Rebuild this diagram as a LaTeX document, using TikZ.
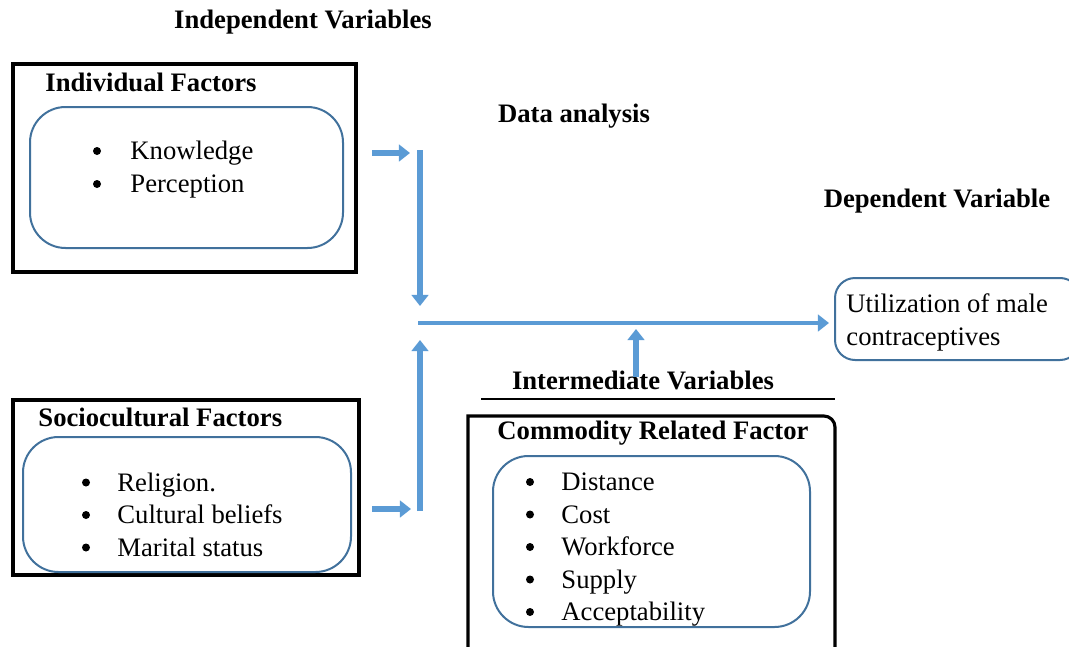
\documentclass[tikz,border=0pt]{standalone}
\usepackage{fontspec}
\setmainfont{Liberation Serif}
\usetikzlibrary{arrows.meta}
\definecolor{linkblue}{HTML}{5B9BD5}
\definecolor{edgeblue}{HTML}{41719C}
\tikzset{
  heading/.style={font=\bfseries\fontsize{12}{14}\selectfont, inner sep=0pt},
  itemtext/.style={font=\fontsize{12}{14}\selectfont, anchor=west, inner sep=0pt, text height=8.5pt, text depth=2.5pt},
  bulletdot/.style={circle, fill=black, inner sep=0pt, minimum size=3.6pt},
  outerbox/.style={draw=black, line width=1.4pt},
  innerbox/.style={draw=edgeblue, line width=0.9pt, rounded corners=16pt},
  flow/.style={draw=linkblue, line width=2.4pt, -{Triangle[length=5pt,width=7.5pt]}},
}
\begin{document}
\begin{tikzpicture}[x=0.45pt,y=-0.45pt]
\useasboundingbox (0,0) rectangle (1069,647);
% headings
\node[heading] (indep) at (303,22) {Independent Variables};
\node[heading] (analysis) at (574,116) {Data analysis};
\node[heading] (dep) at (937,201) {Dependent Variable};
\node[heading] (inter) at (643,380) {Intermediate Variables};
\draw[line width=0.9pt] (481,399) -- (835,399);

% individual factors
\draw[outerbox] (13,64) rectangle (356,272);
\node[heading, anchor=west] (indTitle) at (45,82) {Individual Factors};
\draw[innerbox] (30,107) rectangle (343,248);
\foreach \txt [count=\i] in {Knowledge, Perception}
{
  \node[bulletdot] (ibul\i) at (97,118+33*\i) {};
  \node[itemtext] (iitem\i) at (130,120+33*\i) {\txt};
}

% sociocultural factors
\draw[outerbox] (13,400) rectangle (359,575);
\node[heading, anchor=west] (socTitle) at (38,417) {Sociocultural Factors};
\draw[innerbox] (23,437) rectangle (351,572);
\foreach \txt [count=\i] in {Religion., Cultural beliefs, Marital status}
{
  \node[bulletdot] (sbul\i) at (86,450+32.5*\i) {};
  \node[itemtext] (sitem\i) at (117,452+32.5*\i) {\txt};
}

% commodity related factor
\draw[outerbox] (468,670) -- (468,416) [rounded corners=5pt] -- (835,416) -- (835,670);
\node[heading] (comTitle) at (653,433) {Commodity Related Factor};
\draw[innerbox] (493,456) rectangle (810,627);
\foreach \txt [count=\i] in {Distance, Cost, Workforce, Supply, Acceptability}
{
  \node[bulletdot] (cbul\i) at (530,449.5+32.5*\i) {};
  \node[itemtext] (citem\i) at (561,451.5+32.5*\i) {\txt};
}

% dependent variable
\draw[innerbox, rounded corners=9pt] (835,278) rectangle (1080,360);
\node[itemtext] (out1) at (846,306) {Utilization of male};
\node[itemtext] (out2) at (846,339) {contraceptives};
\coordinate (outIn) at (829,323);

% connectors
\coordinate (indOut) at (372,153);
\coordinate (topIn) at (410,153);
\coordinate (topBus) at (420,150);
\coordinate (topEnd) at (420,306);
\coordinate (socOut) at (372,509);
\coordinate (botIn) at (411,509);
\coordinate (botBus) at (420,511);
\coordinate (botEnd) at (420,340);
\coordinate (mainStart) at (418,323);
\coordinate (comOut) at (636,377);
\coordinate (comEnd) at (636,329);
\draw[flow] (indOut) -- (topIn);
\draw[flow] (topBus) -- (topEnd);
\draw[flow] (socOut) -- (botIn);
\draw[flow] (botBus) -- (botEnd);
\draw[flow, line width=2pt] (mainStart) -- (outIn);
\draw[flow] (comOut) -- (comEnd);
\end{tikzpicture}
\end{document}
